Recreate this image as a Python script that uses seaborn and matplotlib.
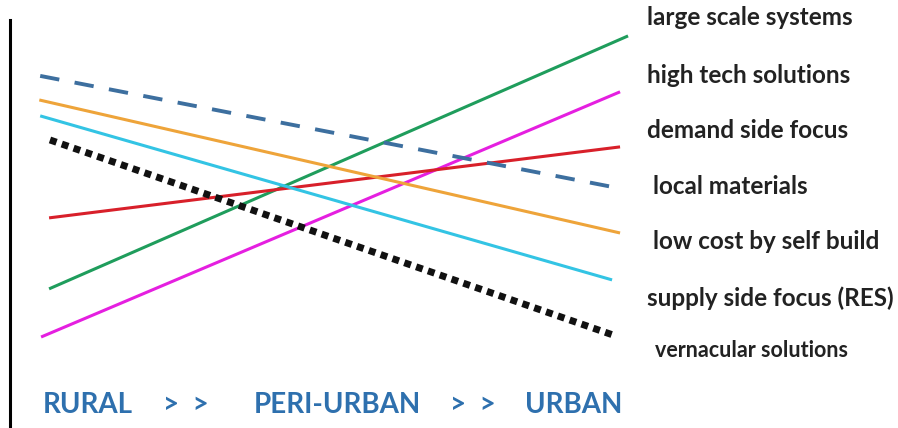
import numpy as np
import pandas as pd
import matplotlib
matplotlib.use("Agg")
import matplotlib.pyplot as plt
import seaborn as sns

# ---- data ----
series = ["large scale systems", "high tech solutions", "demand side focus",
          "local materials", "low cost by self build",
          "supply side focus (RES)", "vernacular solutions"]
x_start = [0.44, 0.35, 0.44, 0.34, 0.33, 0.34, 0.45]
x_end = [6.96, 6.87, 6.87, 6.78, 6.87, 6.78, 6.79]
y_start = [3.41, 2.23, 5.15, 8.63, 8.04, 7.65, 7.06]
y_end = [9.61, 8.24, 6.89, 5.91, 4.78, 3.63, 2.28]
label_x = [7.17, 7.17, 7.17, 7.24, 7.24, 7.17, 7.26]
label_y = [10.05, 8.65, 7.30, 5.91, 4.56, 3.19, 1.91]
zone_text = ["RURAL", ">  >", "PERI-URBAN", ">  >", "URBAN"]
zone_x = [0.37, 1.72, 2.74, 4.95, 5.80]
zone_y = 0.56

colors = ["#1f9d5c", "#e51fe0", "#d8202a", "#3d6f9f", "#eea43a", "#33c4e4", "#111111"]
styles = ["solid", "solid", "solid", "dashed", "solid", "solid", "dotted"]

rows = []
for s, xs, xe, ys, ye in zip(series, x_start, x_end, y_start, y_end):
    rows.append({"series": s, "x": xs, "y": ys})
    rows.append({"series": s, "x": xe, "y": ye})
df = pd.DataFrame(rows)

sns.set_theme(style="white")
plt.rcParams['font.family'] = ['Lato', 'DejaVu Sans']

fig = plt.figure(figsize=(8.98, 4.28), dpi=100)
ax = fig.add_axes([10 / 898, 0.0, 888 / 898, 408 / 428])

sns.lineplot(data=df, x="x", y="y", hue="series", hue_order=series,
             palette=colors, legend=False, ax=ax, sort=False,
             estimator=None)

widths = [2.2, 2.2, 2.2, 2.8, 2.2, 2.2, 5.0]
for line, st, lw in zip(ax.get_lines(), styles, widths):
    line.set_linewidth(lw)
    line.set_solid_capstyle("butt")
    if st == "dashed":
        line.set_dashes((5, 4))
        line.set_dash_capstyle("butt")
    elif st == "dotted":
        line.set_dashes((1, 0.8))
        line.set_dash_capstyle("butt")

ax.set_xlim(0, 10)
ax.set_ylim(0, 10)
ax.set_xlabel("")
ax.set_ylabel("")
ax.set_xticks([])
ax.set_yticks([])
for sp in ["top", "right", "bottom"]:
    ax.spines[sp].set_visible(False)
ax.spines["left"].set_color("black")
ax.spines["left"].set_linewidth(2.2)
ax.patch.set_alpha(0)

for i, (name, lx, ly) in enumerate(zip(series, label_x, label_y)):
    fs = 15.5 if i == len(series) - 1 else 17.5
    ax.text(lx, ly, name, fontsize=fs, fontweight="bold", color="#222222",
            va="center", ha="left", clip_on=False)

for t, zx in zip(zone_text, zone_x):
    ax.text(zx, zone_y, t, fontsize=20, fontweight="bold", color="#2e70ae",
            va="center", ha="left")

fig.savefig("out.png", dpi=100)
